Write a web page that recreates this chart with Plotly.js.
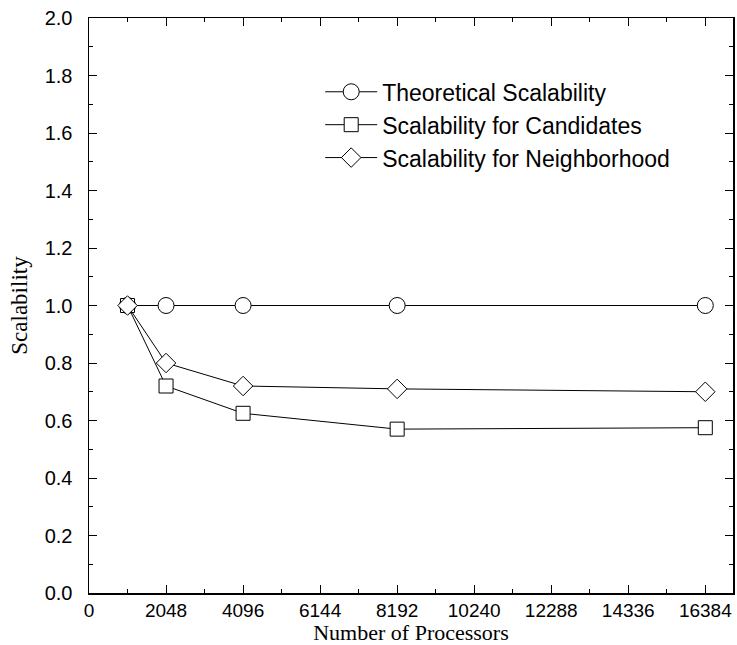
<!DOCTYPE html>
<html><head><meta charset="utf-8">
<script src="https://cdn.plot.ly/plotly-3.0.1.min.js"></script>
<style>body{margin:0;padding:0;background:#fff}#c{width:737px;height:645px}</style>
</head><body><div id="c"></div>
<script>
const processors = [1024, 2048, 4096, 8192, 16384];
const theoretical = [1.0, 1.0, 1.0, 1.0, 1.0];
const candidates = [1.0, 0.72, 0.625, 0.57, 0.575];
const neighborhood = [1.0, 0.80, 0.72, 0.71, 0.70];
const xTicks = [0, 2048, 4096, 6144, 8192, 10240, 12288, 14336, 16384];
const names = ['Theoretical Scalability', 'Scalability for Candidates', 'Scalability for Neighborhood'];

function tr(y, name, sym, size, g){
  return {x: processors, y: y, name: name, type: 'scatter', mode: 'lines+markers',
    legendgroup: g,
    line: {color: '#000', width: 1},
    marker: {symbol: sym, size: size, color: '#fff', line: {color: '#000', width: 1}}};
}
const data = [
  tr(theoretical, names[0], 'circle', 16, 'a'),
  tr(candidates, names[1], 'square', 14, 'b'),
  tr(neighborhood, names[2], 'diamond', 15, 'c')
];
const tickfont = {family: 'Liberation Sans, Arial, sans-serif', size: 19, color: '#000'};
const legfont = {family: 'Liberation Sans, Arial, sans-serif', size: 23, color: '#000'};
const titlefont = {family: 'Liberation Serif, Times New Roman, serif', size: 22, color: '#000'};
const layout = {
  width: 737, height: 645,
  margin: {l: 89, r: 4, t: 18, b: 52},
  paper_bgcolor: '#fff', plot_bgcolor: '#fff',
  showlegend: true,
  legend: {x: 0.359, y: 0.909, xanchor: 'left', yanchor: 'top', bgcolor: 'rgba(0,0,0,0)',
    font: legfont, traceorder: 'grouped', tracegroupgap: 0, itemwidth: 52},
  xaxis: {range: [0, 17120], tickvals: xTicks, ticktext: xTicks.map(String),
    ticks: 'inside', ticklen: 8, tickwidth: 1, tickcolor: '#000',
    minor: {dtick: 1024, tick0: 0, ticks: 'inside', ticklen: 4, tickcolor: '#000'},
    showline: true, linecolor: '#000', linewidth: 1.5, mirror: 'allticks',
    showgrid: false, zeroline: false, tickfont: tickfont, ticklabelstandoff: 0,
    title: {text: 'Number of Processors', font: titlefont, standoff: 8}},
  yaxis: {range: [0, 2.0], dtick: 0.2, tickformat: '.1f',
    ticks: 'inside', ticklen: 8, tickwidth: 1, tickcolor: '#000',
    minor: {dtick: 0.1, ticks: 'inside', ticklen: 4, tickcolor: '#000'},
    showline: true, linecolor: '#000', linewidth: 1.5, mirror: 'allticks',
    showgrid: false, zeroline: false, tickfont: {family: 'Liberation Sans, Arial, sans-serif', size: 20, color: '#000'}, ticklabelstandoff: 11,
    title: {text: 'Scalability', font: {family: 'Liberation Serif, Times New Roman, serif', size: 23, color: '#000'}, standoff: 10}}
};
Plotly.newPlot('c', data, layout, {displayModeBar: false, staticPlot: true});
</script>
</body></html>
